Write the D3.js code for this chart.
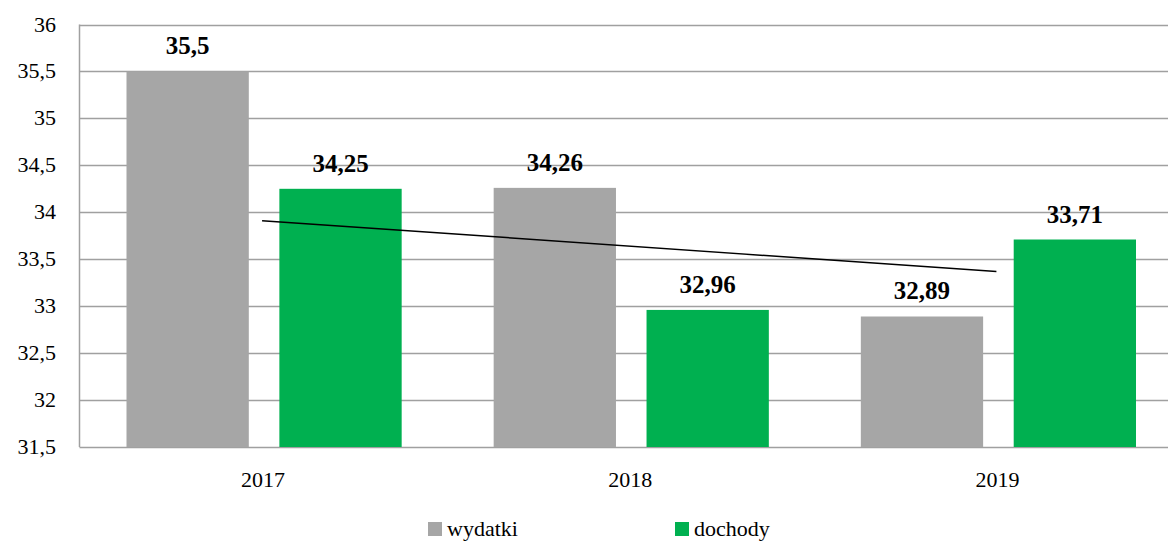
<!DOCTYPE html>
<html>
<head>
<meta charset="utf-8">
<script src="https://cdn.jsdelivr.net/npm/d3@7"></script>
<style>
  body { margin: 0; background: #fff; }
  #chart { position: relative; width: 1168px; height: 541px; overflow: hidden; }
  #chart svg { position: absolute; left: 0; top: 0; }
  .lbl { position: absolute; font-family: 'Liberation Serif', 'Times New Roman', serif; color: #000;
         white-space: nowrap; line-height: 1; }
</style>
</head>
<body>
<div id="chart"></div>
<script>
let width = 1168, height = 541;

let years = ['2017', '2018', '2019'];
let seriesNames = ['wydatki', 'dochody'];
let wydatki = [35.5, 34.26, 32.89];
let dochody = [34.25, 32.96, 33.71];
let yTicks = [31.5, 32, 32.5, 33, 33.5, 34, 34.5, 35, 35.5, 36];
let colors = ['#a6a6a6', '#00b050'];

let margin = {top: 24.5, left: 79.5, bottom: 94, right: -13};

let chart = d3.select('#chart');
let svg = chart
    .append('svg')
    .attr('width', width)
    .attr('height', height);

let x0 = d3.scaleBand()
    .domain(years)
    .range([margin.left, width - margin.right])
    .paddingInner(0)
    .paddingOuter(0);

let x1 = d3.scaleBand()
    .domain(seriesNames)
    .range([47, x0.bandwidth() - 45])
    .paddingInner(0.2);

let y = d3.scaleLinear()
    .domain([31.5, 36])
    .range([height - margin.bottom, margin.top]);

let fmt = d => String(d).replace('.', ',');

// html label helper: anchor 'end' | 'middle' | 'start', y is the baseline-ish centre
function label(text, x, yc, size, anchor, bold) {
    let shift = anchor === 'end' ? '-100%' : anchor === 'middle' ? '-50%' : '0';
    chart.append('div')
        .attr('class', 'lbl')
        .style('left', x + 'px')
        .style('top', yc + 'px')
        .style('font-size', size + 'px')
        .style('font-weight', bold ? 'bold' : 'normal')
        .style('transform', `translate(${shift},-50%)`)
        .text(text);
}

// grid lines
svg.selectAll('.grid')
    .data(yTicks)
    .enter()
    .append('line')
    .attr('x1', margin.left)
    .attr('x2', width)
    .attr('y1', d => Math.round(y(d)) + 0.5)
    .attr('y2', d => Math.round(y(d)) + 0.5)
    .attr('stroke', '#a0a0a0')
    .attr('stroke-width', 1.5);

// y axis line
svg.append('line')
    .attr('x1', margin.left)
    .attr('x2', margin.left)
    .attr('y1', y(36))
    .attr('y2', y(31.5))
    .attr('stroke', '#a0a0a0')
    .attr('stroke-width', 1.5);

// y tick labels
yTicks.forEach(t => label(fmt(t), 56, y(t), 22, 'end', false));

let rows = years.map((yr, i) => ({year: yr, values: [
    {key: 'wydatki', value: wydatki[i]},
    {key: 'dochody', value: dochody[i]}
]}));

let groups = svg.selectAll('.group')
    .data(rows)
    .enter()
    .append('g')
    .attr('transform', d => `translate(${x0(d.year)},0)`);

groups.selectAll('rect')
    .data(d => d.values)
    .enter()
    .append('rect')
    .attr('x', d => x1(d.key))
    .attr('y', d => y(d.value))
    .attr('width', x1.bandwidth())
    .attr('height', d => y(31.5) - y(d.value))
    .attr('fill', (d, i) => colors[i]);

// value labels
rows.forEach(r => r.values.forEach(v => {
    label(fmt(v.value), x0(r.year) + x1(v.key) + x1.bandwidth() / 2, y(v.value) - 26, 25, 'middle', true);
}));

// linear trend of dochody
let xs = years.map((d, i) => i);
let mx = d3.mean(xs), my = d3.mean(dochody);
let slope = d3.sum(xs, (v, i) => (v - mx) * (dochody[i] - my)) / d3.sum(xs, v => (v - mx) * (v - mx));
let trend = xs.map(v => my + slope * (v - mx));

svg.append('line')
    .attr('x1', x0(years[0]) + x0.bandwidth() / 2 - 1)
    .attr('x2', x0(years[2]) + x0.bandwidth() / 2 - 1)
    .attr('y1', y(trend[0]))
    .attr('y2', y(trend[2]))
    .attr('stroke', '#000')
    .attr('stroke-width', 1.5);

// x labels
years.forEach(d => label(d, x0(d) + x0.bandwidth() / 2, 480, 22, 'middle', false));

// legend
let legendX = [428, 675];
svg.selectAll('.legend')
    .data(seriesNames)
    .enter()
    .append('rect')
    .attr('x', (d, i) => legendX[i])
    .attr('y', 522)
    .attr('width', 14)
    .attr('height', 14)
    .attr('fill', (d, i) => colors[i]);

seriesNames.forEach((d, i) => label(d, legendX[i] + 19, 529, 22, 'start', false));
</script>
</body>
</html>
